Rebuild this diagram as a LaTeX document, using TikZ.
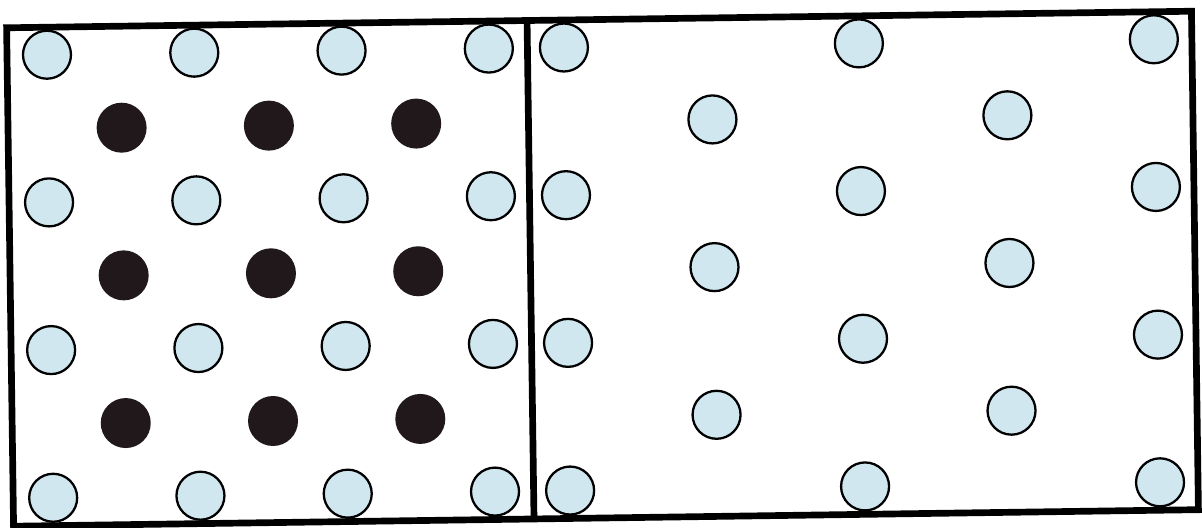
\documentclass[tikz,border=0pt]{standalone}
\definecolor{atomblue}{RGB}{208,231,240}
\definecolor{atomblack}{RGB}{32,24,26}
\begin{document}
\begin{tikzpicture}[x=0.02cm,y=-0.02cm,
  lightatom/.style={circle,draw,line width=1.3pt,fill=atomblue,inner sep=0pt,minimum size=0.96cm},
  darkatom/.style={circle,fill=atomblack,inner sep=0pt,minimum size=1cm}]
\useasboundingbox (0,0) rectangle (1202,527);
\begin{scope}[rotate around={0.8:(601,268)}]
% frames
\draw[line width=3.8pt] (10,19.5) rectangle (1195,518);
\draw[line width=3.8pt] (530.5,19.5) -- (530.5,518);
% left panel
\foreach \i in {0,...,3}
  \foreach \j in {0,...,3}
    \node[lightatom] (l-\i-\j) at ({50+147.3*\i},{47+147.7*\j}) {};
\foreach \i in {0,1,2}
  \foreach \j in {0,1,2}
    \node[darkatom] (d-\i-\j) at ({123.6+147.3*\i},{121+147.7*\j}) {};
% right panel
\foreach \i in {0,1,2}
  \foreach \j in {0,...,3}
    \node[lightatom] (r-\i-\j) at ({567+295*\i},{47+147.7*\j}) {};
\foreach \i in {0,1}
  \foreach \j in {0,1,2}
    \node[lightatom] (m-\i-\j) at ({714.5+295*\i},{121+147.7*\j}) {};
\end{scope}
\end{tikzpicture}
\end{document}
